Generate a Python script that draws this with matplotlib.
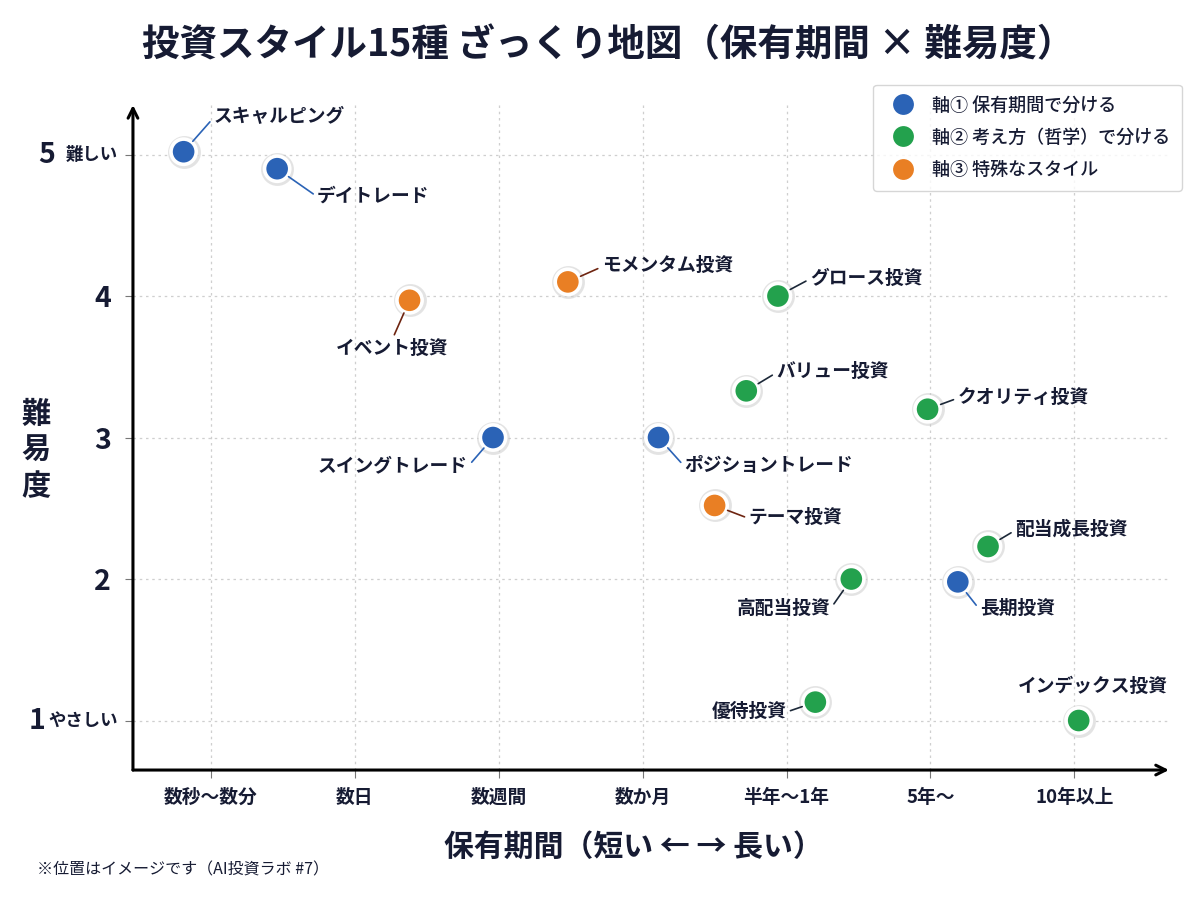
import numpy as np
import matplotlib
matplotlib.use("Agg")
import matplotlib.pyplot as plt
from matplotlib.lines import Line2D

plt.rcParams['font.family'] = ['Noto Sans CJK JP', 'DejaVu Sans']

# --- data ---
periods = ["数秒〜数分", "数日", "数週間", "数か月", "半年〜1年", "5年〜", "10年以上"]
styles = ["スキャルピング", "デイトレード", "イベント投資", "モメンタム投資", "グロース投資",
          "バリュー投資", "スイングトレード", "ポジショントレード", "クオリティ投資", "テーマ投資",
          "配当成長投資", "高配当投資", "長期投資", "優待投資", "インデックス投資"]
holding = [-0.19, 0.46, 1.38, 2.48, 3.94, 3.72, 1.96, 3.11, 4.98, 3.50, 5.40, 4.45, 5.19, 4.20, 6.03]
difficulty = [5.02, 4.90, 3.97, 4.10, 4.00, 3.33, 3.00, 3.00, 3.20, 2.52, 2.23, 2.00, 1.98, 1.13, 1.00]
group = [1, 1, 3, 3, 2, 2, 1, 1, 2, 3, 2, 2, 1, 2, 2]
group_names = {1: "軸① 保有期間で分ける", 2: "軸② 考え方（哲学）で分ける", 3: "軸③ 特殊なスタイル"}

# label layout: offset from point in pixels (dx, dy down), alignment
label_pos = [(30, -35, 'left'), (40, 27, 'left'), (-17, 48, 'center'), (34, -16, 'left'),
             (32, -18, 'left'), (30, -19, 'left'), (-25, 28, 'right'), (26, 28, 'left'),
             (30, -12, 'left'), (34, 12, 'left'), (27, -17, 'left'), (-21, 29, 'right'),
             (22, 27, 'left'), (-29, 9, 'right'), (14, -34, 'center')]

colors = {1: '#2b63b6', 2: '#23a14d', 3: '#e97f24'}
line_colors = {1: '#2b63b6', 2: '#1c2838', 3: '#6e2410'}
TXT = '#161b33'

fig = plt.figure(figsize=(12, 9), dpi=100)
ax = fig.add_axes([0.1108, 0.1444, 0.8633, 0.7389])
ax.set_xlim(-0.542, 6.657)
ax.set_ylim(0.65, 5.35)

for s in ax.spines.values():
    s.set_visible(False)
ax.annotate('', xy=(1, 0), xytext=(0, 0), xycoords='axes fraction',
            arrowprops=dict(arrowstyle='->,head_length=0.7,head_width=0.35', lw=2.2, color='black',
                            shrinkA=0, shrinkB=0))
ax.annotate('', xy=(0, 1), xytext=(0, 0), xycoords='axes fraction',
            arrowprops=dict(arrowstyle='->,head_length=0.7,head_width=0.35', lw=2.2, color='black',
                            shrinkA=0, shrinkB=0))

ax.set_xticks(range(len(periods)))
ax.set_xticklabels(periods, fontsize=13.5, fontweight='bold', color=TXT)
ax.set_yticks([1, 2, 3, 4, 5])
ax.set_yticklabels(['', '2', '3', '4', ''], fontsize=20.5, fontweight='bold', color=TXT)
ax.tick_params(axis='x', length=6, width=0.8, color='#777777', pad=7)
ax.tick_params(axis='y', length=6, width=0.8, color='#777777', pad=10)
ax.grid(True, color='#cfcfcf', linestyle=(0, (2, 3)), linewidth=0.9)
ax.set_axisbelow(True)

# y end labels with words
ax.annotate('難しい', xy=(0, 5), xycoords=('axes fraction', 'data'), xytext=(-11, 0),
            textcoords='offset points', ha='right', va='center', fontsize=12.5,
            fontweight='bold', color=TXT)
ax.annotate('5', xy=(0, 5), xycoords=('axes fraction', 'data'), xytext=(-56, 0),
            textcoords='offset points', ha='right', va='center', fontsize=20.5,
            fontweight='bold', color=TXT)
ax.annotate('やさしい', xy=(0, 1), xycoords=('axes fraction', 'data'), xytext=(-11, 0),
            textcoords='offset points', ha='right', va='center', fontsize=12.5,
            fontweight='bold', color=TXT)
ax.annotate('1', xy=(0, 1), xycoords=('axes fraction', 'data'), xytext=(-63, 0),
            textcoords='offset points', ha='right', va='center', fontsize=20.5,
            fontweight='bold', color=TXT)

# points
pc = [colors[g] for g in group]
ax.scatter(holding, difficulty, s=560, color='#c8c8c8', alpha=0.5, zorder=3, linewidths=0)
ax.scatter(holding, difficulty, s=330, color=pc, edgecolors='white', linewidths=2.6, zorder=4)

for i, name in enumerate(styles):
    dx, dy, ha = label_pos[i]
    if ha == 'left':
        rp = (0, 0.45)
    elif ha == 'right':
        rp = (1, 0.45)
    else:
        rp = (0.5, 1)
    arrow = None
    if name != "インデックス投資":
        arrow = dict(arrowstyle='-', color=line_colors[group[i]], lw=1.2,
                     shrinkA=1, shrinkB=10, relpos=rp)
    ax.annotate(name, xy=(holding[i], difficulty[i]), xytext=(dx * 0.72, -dy * 0.72),
                textcoords='offset points', ha=ha, va='center', fontsize=13.5,
                fontweight='bold', color=TXT, arrowprops=arrow, zorder=5)

# legend
handles = [Line2D([], [], marker='o', linestyle='', markersize=17, markerfacecolor=colors[g],
                  markeredgecolor='white', markeredgewidth=2) for g in (1, 2, 3)]
leg = fig.legend(handles, [group_names[g] for g in (1, 2, 3)], loc='upper right',
                 bbox_to_anchor=(0.985, 0.906), fontsize=13, frameon=True, fancybox=True,
                 handletextpad=0.6, labelspacing=0.8, borderpad=0.65, borderaxespad=0)
leg.get_frame().set_edgecolor('#cccccc')
leg.get_frame().set_linewidth(1.0)
for t in leg.get_texts():
    t.set_color(TXT)
    t.set_fontweight('medium')

fig.text(0.507, 0.95, "投資スタイル15種 ざっくり地図（保有期間 × 難易度）", ha='center', va='center',
         fontsize=27, fontweight='bold', color=TXT)
fig.text(0.528, 0.059, "保有期間（短い ← → 長い）", ha='center', va='center', fontsize=21.5,
         fontweight='bold', color=TXT)
fig.text(0.03, 0.5, "難\n易\n度", ha='center', va='center', fontsize=21, fontweight='bold',
         color=TXT, linespacing=1.25)
fig.text(0.031, 0.033, "※位置はイメージです（AI投資ラボ #7）", ha='left', va='center', fontsize=11.5,
         color=TXT)

fig.savefig('out.png', dpi=100)
